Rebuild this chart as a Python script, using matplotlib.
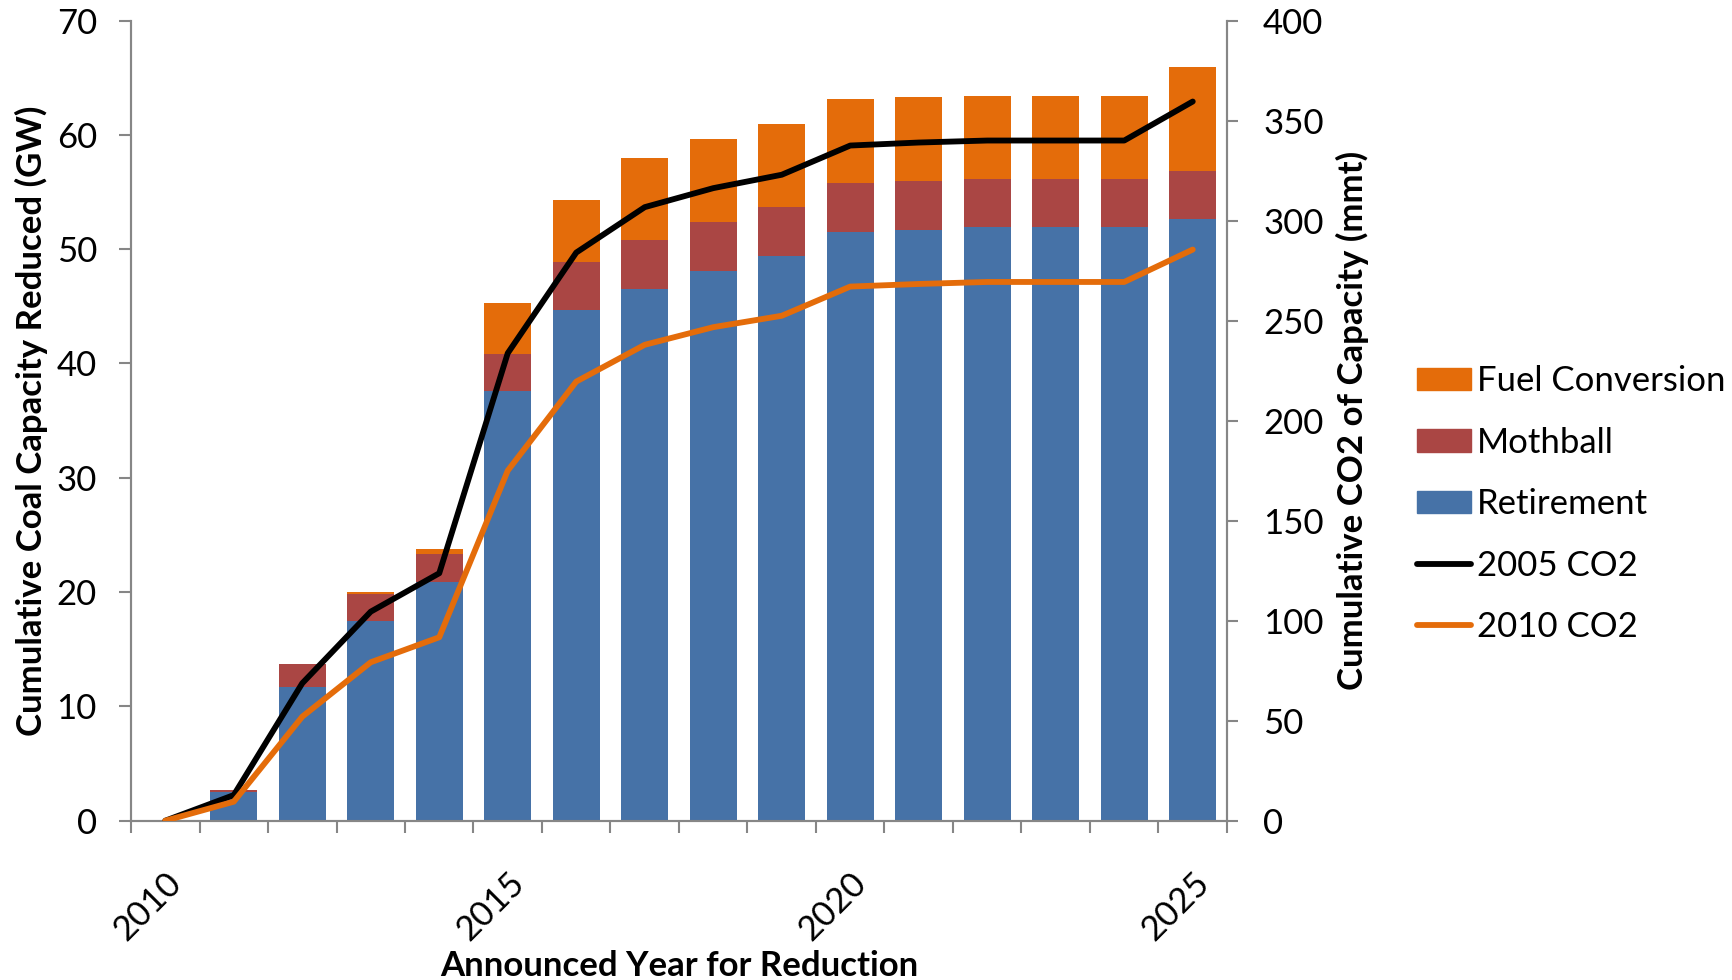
import numpy as np
import matplotlib
matplotlib.use('Agg')
import matplotlib.pyplot as plt
from matplotlib.patches import Patch
from matplotlib.lines import Line2D

years = list(range(2010, 2026))
retirement = [0, 2.5, 11.7, 17.5, 20.9, 37.6, 44.7, 46.5, 48.1, 49.4, 51.5, 51.7, 51.9, 51.9, 51.9, 52.6]
mothball = [0, 0.15, 2.0, 2.3, 2.4, 3.2, 4.2, 4.3, 4.3, 4.3, 4.3, 4.3, 4.25, 4.25, 4.25, 4.25]
fuel_conversion = [0, 0, 0, 0.2, 0.5, 4.5, 5.4, 7.2, 7.25, 7.26, 7.3, 7.3, 7.25, 7.25, 7.25, 9.1]
co2_2005 = [0, 12.8, 68.7, 104.5, 123.7, 233.7, 284, 306.7, 316.2, 322.9, 337.5, 339, 340, 340, 340, 359.5]
co2_2010 = [0, 9.5, 52, 79.2, 91.7, 175, 219.5, 237.9, 246.7, 252.4, 267, 268.3, 269.3, 269.3, 269.3, 285.5]
year_labels = ['2010', '2015', '2020', '2025']

BLUE = '#4672a7'
RED = '#aa4644'
ORANGE = '#e46c0a'
GRAY = '#868686'

plt.rcParams['font.family'] = ['Lato', 'DejaVu Sans']

fig = plt.figure(figsize=(17.32, 9.8), dpi=100)
W, H = 1732, 980
ax = fig.add_axes([131 / W, 1 - 820.7 / H, (1227 - 131) / W, (820.7 - 20.5) / H])

x = np.arange(len(years))
ret = np.array(retirement)
mb = np.array(mothball)
fc = np.array(fuel_conversion)
bw = 0.68
ax.bar(x, ret, bw, color=BLUE, zorder=2)
ax.bar(x, mb, bw, bottom=ret, color=RED, zorder=2)
ax.bar(x, fc, bw, bottom=ret + mb, color=ORANGE, zorder=2)

ax.set_xlim(-0.5, len(years) - 0.5)
ax.set_ylim(0, 70)
ax.set_yticks(np.arange(0, 71, 10))

LW = 4.2
ax2 = ax.twinx()
ax2.plot(x, co2_2005, color='black', lw=LW, solid_joinstyle='round', solid_capstyle='round', zorder=3)
ax2.plot(x, co2_2010, color=ORANGE, lw=LW, solid_joinstyle='round', solid_capstyle='round', zorder=3)
ax2.set_ylim(0, 400)
ax2.set_yticks(np.arange(0, 401, 50))

# year labels every five categories, tick marks at the category edges
ax.set_xticks([0, 5, 10, 15])
ax.set_xticklabels(year_labels, rotation=45, ha='right', rotation_mode='anchor')
ax.set_xticks(np.arange(-0.5, len(years), 1), minor=True)
ax.tick_params(axis='x', which='major', length=0, pad=33, labelsize=25)
ax.tick_params(axis='x', which='minor', length=8.5, width=1.5, color=GRAY)
ax.tick_params(axis='y', length=8.5, width=1.5, color=GRAY, pad=16, labelsize=25)
ax2.tick_params(axis='y', length=8, width=1.5, color=GRAY, pad=18, labelsize=25)

for a in (ax, ax2):
    a.spines['top'].set_visible(False)
    for s in ('left', 'right', 'bottom'):
        a.spines[s].set_color(GRAY)
        a.spines[s].set_linewidth(1.5)

ax.set_xlabel('Announced Year for Reduction', fontsize=25, fontweight='bold')
ax.xaxis.set_label_coords(0.5, -0.181)
ax.set_ylabel('Cumulative Coal Capacity Reduced (GW)', fontsize=25, fontweight='bold')
ax.yaxis.set_label_coords(-0.091, 0.5)
ax2.set_ylabel('Cumulative CO2 of Capacity (mmt)', fontsize=25, fontweight='bold', rotation=90)
ax2.yaxis.set_label_coords(1.114, 0.5)
ax.xaxis.label.set_va('center')
ax.yaxis.label.set_va('center')
ax2.yaxis.label.set_va('center')

handles = [
    Patch(color=ORANGE, label='Fuel Conversion'),
    Patch(color=RED, label='Mothball'),
    Patch(color=BLUE, label='Retirement'),
    Line2D([], [], color='black', lw=LW, solid_capstyle='round', label='2005 CO2'),
    Line2D([], [], color=ORANGE, lw=LW, solid_capstyle='round', label='2010 CO2'),
]
fig.legend(handles=handles, loc='upper left', bbox_to_anchor=(1417 / W, 1 - 365 / H),
           frameon=False, fontsize=25, handlelength=1.55, handleheight=0.62,
           handletextpad=0.18, labelspacing=0.85, borderpad=0, borderaxespad=0)

fig.savefig('out.png', dpi=100)
